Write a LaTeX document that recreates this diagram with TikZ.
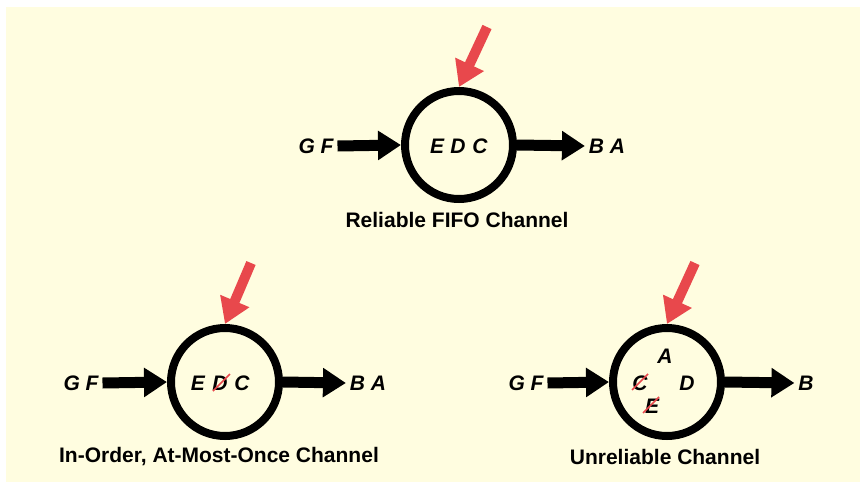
\documentclass[tikz,border=0pt]{standalone}
\usepackage{fontspec}
\setmainfont{Liberation Sans}
\usetikzlibrary{arrows.meta,calc}
\definecolor{bgyellow}{RGB}{255,253,224}
\definecolor{arrowred}{RGB}{232,72,76}
\tikzset{
  chan/.style={circle, draw=black, line width=8pt, minimum size=108pt, inner sep=0pt},
  msg/.style={font=\fontsize{21}{21}\selectfont\bfseries\itshape, inner sep=0pt, outer sep=4pt},
  caption/.style={font=\fontsize{21}{21}\selectfont\bfseries, inner sep=0pt},
  flow/.style={line width=11pt, -{Triangle[length=23pt,width=28pt]}},
  inject/.style={draw=arrowred, line width=10pt, arrowred, -{Triangle[length=25pt,width=30pt]}},
  strike/.style={draw=arrowred, line width=1.6pt}
}
\begin{document}
\begin{tikzpicture}[x=1pt,y=-1pt]
\fill[white] (0,0) rectangle (860,482);
\fill[bgyellow] (6,7) rectangle (860,482);
\useasboundingbox (0,0) rectangle (860,482);

% ---------- Reliable FIFO ----------
\node[chan] (c1) at (459,145) {};
\node[msg] (e1) at (437,146) {E};
\node[msg] (d1) at (458,146) {D};
\node[msg] (k1) at (480,146) {C};
\node[msg] (in1) at (316,146) {G F};
\node[msg] (out1) at (607,146) {B A};
\node[caption] (lab1) at (457,220) {Reliable FIFO Channel};
\coordinate (r1) at (487,27);
\draw[flow] (in1.east) -- (c1.west);
\draw[flow] (c1.east) -- (out1.west);
\draw[inject] (r1) -- (c1.north);

% ---------- In-Order, At-Most-Once ----------
\node[chan] (c2) at (225,382) {};
\node[msg] (e2) at (198,383) {E};
\node[msg] (d2) at (220,383) {D};
\node[msg] (k2) at (242,383) {C};
\node[msg] (in2) at (81,383) {G F};
\node[msg] (out2) at (368,383) {B A};
\node[caption] (lab2) at (219,457) {In-Order, At-Most-Once Channel};
\coordinate (r2) at (251,263);
\draw[flow] (in2.east) -- (c2.west);
\draw[flow] (c2.east) -- (out2.west);
\draw[inject] (r2) -- (c2.north);
\draw[strike] ($(d2.center)+(-7,8)$) -- ($(d2.center)+(10,-9)$);

% ---------- Unreliable ----------
\node[chan] (c3) at (667,382) {};
\node[msg] (a3) at (665,356) {A};
\node[msg] (k3) at (640,383) {C};
\node[msg] (d3) at (687,383) {D};
\node[msg] (e3) at (652,406) {E};
\node[msg] (in3) at (526,383) {G F};
\node[msg] (out3) at (806,383) {B};
\node[caption] (lab3) at (665,457) {Unreliable Channel};
\coordinate (r3) at (695,263);
\draw[flow] (in3.east) -- (c3.west);
\draw[flow] (c3.east) -- (out3.west);
\draw[inject] (r3) -- (c3.north);
\draw[strike] ($(k3.center)+(-8,7)$) -- ($(k3.center)+(8,-9)$);
\draw[strike] ($(e3.center)+(-9,7)$) -- ($(e3.center)+(7,-9)$);
\end{tikzpicture}
\end{document}
